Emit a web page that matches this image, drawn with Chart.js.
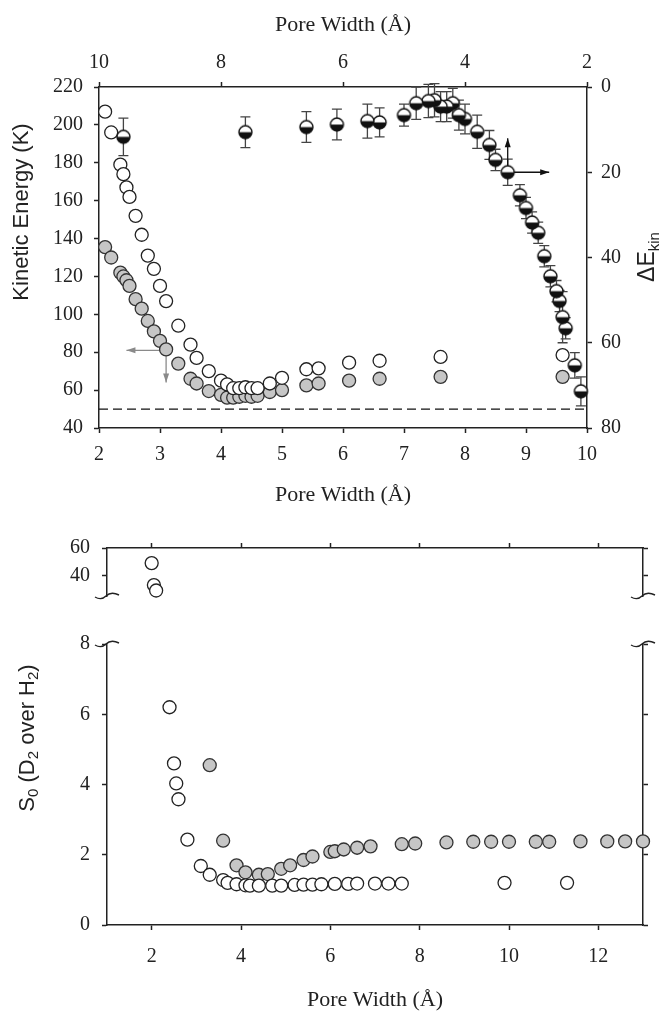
<!DOCTYPE html>
<html>
<head>
<meta charset="utf-8">
<script src="https://cdn.jsdelivr.net/npm/chart.js@4.4.1/dist/chart.umd.min.js"></script>
<style>
  body { margin: 0; background: #fff; }
  #wrap { position: relative; width: 660px; height: 1012px; overflow: hidden; }
  canvas { position: absolute; left: 0; }
</style>
</head>
<body>
<div id="wrap">
  <canvas id="keChart" width="660" height="520" style="top:0"></canvas>
  <canvas id="selUpper" width="660" height="100" style="top:520px"></canvas>
  <canvas id="selLower" width="660" height="392" style="top:620px"></canvas>
</div>
<script>
// top panel: kinetic energy (left/bottom axes) and delta E_kin (right/top axes)
var poreWidthTop = [2.1, 2.2, 2.35, 2.4, 2.45, 2.5, 2.6, 2.7, 2.8, 2.9, 3.0, 3.1, 3.3, 3.5, 3.6, 3.8,
  4.0, 4.1, 4.2, 4.3, 4.4, 4.5, 4.6, 4.8, 5.0, 5.4, 5.6, 6.1, 6.6, 7.6, 9.6];
var keOpen = [207, 196, 179, 174, 167, 162, 152, 142, 131, 124, 115, 107, 94, 84, 77, 70,
  65, 63, 61, 61, 61.5, 61, 61, 63.5, 66.5, 71, 71.5, 74.5, 75.5, 77.5, 78.5];
var keGray = [135.5, 130, 122, 120, 118, 115, 108, 103, 96.5, 91, 86, 81.5, 74, 66, 63.5, 59.5,
  57.5, 56, 56, 56.5, 57, 56.5, 57, 59, 60, 62.5, 63.5, 65, 66, 67, 67];
var deltaKin = [71.4, 65.3, 56.6, 54, 50.2, 47.9, 44.4, 39.7, 34.2, 31.8, 28.4, 25.4, 20, 17.1, 13.6, 10.5,
  7.5, 6.6, 3.8, 4.6, 4.6, 3.1, 3.3, 3.8, 6.6, 8.3, 8.0, 8.8, 9.4, 10.6, 11.7];
var deltaKinErr = [3.4, 3, 2.5, 6, 2.5, 2.5, 2.5, 2.5, 2.5, 2.5, 2.5, 2.5, 3.1, 2.5, 3.4, 3.9,
  3.5, 3.5, 3.5, 3.5, 3.5, 3.9, 3.9, 3.8, 2.6, 3.4, 4, 3.6, 3.6, 3.6, 4.4];
var keLimit = 50;

var keTicksX = [2, 3, 4, 5, 6, 7, 8, 9, 10];
var keTicksXTop = [2, 4, 6, 8, 10];
var keTicksY = [40, 60, 80, 100, 120, 140, 160, 180, 200, 220];
var deltaTicks = [0, 20, 40, 60, 80];

// bottom panel: selectivity S0
var poreWidthOpen = [2.0, 2.05, 2.1, 2.4, 2.5, 2.55, 2.6, 2.8, 3.1, 3.3, 3.6, 3.7, 3.9, 4.1, 4.2,
  4.4, 4.7, 4.9, 5.2, 5.4, 5.6, 5.8, 6.1, 6.4, 6.6, 7.0, 7.3, 7.6, 9.9, 11.3];
var selOpen = [49, 33, 29, 6.2, 4.6, 4.03, 3.58, 2.43, 1.68, 1.43, 1.28, 1.2, 1.16, 1.13, 1.12,
  1.12, 1.12, 1.12, 1.14, 1.15, 1.15, 1.16, 1.17, 1.17, 1.18, 1.18, 1.18, 1.18, 1.2, 1.2];
var poreWidthGray = [3.3, 3.6, 3.9, 4.1, 4.4, 4.6, 4.9, 5.1, 5.4, 5.6, 6.0, 6.1, 6.3, 6.6, 6.9,
  7.6, 7.9, 8.6, 9.2, 9.6, 10.0, 10.6, 10.9, 11.6, 12.2, 12.6, 13.0];
var selGray = [4.55, 2.4, 1.7, 1.5, 1.43, 1.45, 1.6, 1.7, 1.85, 1.95, 2.08, 2.1, 2.15, 2.2, 2.24,
  2.3, 2.32, 2.35, 2.37, 2.37, 2.37, 2.37, 2.37, 2.38, 2.38, 2.38, 2.38];

var selTicksX = [2, 4, 6, 8, 10, 12];
var selTicksUpper = [40, 60];
var selTicksLower = [0, 2, 4, 6, 8];

var ink = "#222";
var serif = "'Liberation Serif', 'Times New Roman', serif";
var sans = "'Liberation Sans', Arial, sans-serif";

function pairs(xs, ys) {
  return xs.map(function (x, i) { return { x: x, y: ys[i] }; });
}

function axis(position, min, max, tickValues, size, pad, showLabels) {
  return {
    type: "linear",
    position: position,
    min: min,
    max: max,
    border: { display: true, color: ink, width: 1.5 },
    grid: { display: true, drawOnChartArea: false, drawTicks: true, tickLength: 5, tickWidth: 1.5, tickColor: ink },
    ticks: { display: showLabels, padding: pad, color: ink, font: { family: serif, size: 20 } },
    afterBuildTicks: function (s) { s.ticks = tickValues.map(function (v) { return { value: v }; }); },
    afterFit: function (s) { if (s.isHorizontal()) s.height = size; else s.width = size; }
  };
}

function poreTitle(pad) {
  return { display: true, text: "Pore Width (Å)", color: ink, font: { family: serif, size: 22, lineHeight: 1 }, padding: pad };
}

function sideLabel(ctx, cx, cy, parts) {
  ctx.save();
  ctx.translate(cx, cy);
  ctx.rotate(-Math.PI / 2);
  ctx.fillStyle = ink;
  ctx.textBaseline = "middle";
  ctx.textAlign = "left";
  var total = 0;
  parts.forEach(function (p) { ctx.font = p[1] + "px " + sans; total += ctx.measureText(p[0]).width; });
  var pos = -total / 2;
  parts.forEach(function (p) {
    ctx.font = p[1] + "px " + sans;
    ctx.fillText(p[0], pos, p[2]);
    pos += ctx.measureText(p[0]).width;
  });
  ctx.restore();
}

function arrow(ctx, x0, y0, x1, y1, color) {
  var a = Math.atan2(y1 - y0, x1 - x0);
  ctx.strokeStyle = color;
  ctx.fillStyle = color;
  ctx.lineWidth = 1.3;
  ctx.beginPath();
  ctx.moveTo(x0, y0);
  ctx.lineTo(x1, y1);
  ctx.stroke();
  ctx.beginPath();
  ctx.moveTo(x1, y1);
  ctx.lineTo(x1 - 9 * Math.cos(a) + 3 * Math.sin(a), y1 - 9 * Math.sin(a) - 3 * Math.cos(a));
  ctx.lineTo(x1 - 9 * Math.cos(a) - 3 * Math.sin(a), y1 - 9 * Math.sin(a) + 3 * Math.cos(a));
  ctx.closePath();
  ctx.fill();
}

function squiggle(ctx, x, y) {
  ctx.beginPath();
  ctx.moveTo(x - 12, y + 1);
  ctx.bezierCurveTo(x - 7, y + 4, x - 4, y + 3, x - 1, y);
  ctx.bezierCurveTo(x + 2, y - 3, x + 6, y - 4, x + 12, y - 1);
  ctx.stroke();
}

// half-filled marker (white top, black bottom)
function halfDot() {
  var c = document.createElement("canvas");
  c.width = 17; c.height = 17;
  var g = c.getContext("2d");
  g.fillStyle = "#fff";
  g.beginPath(); g.arc(8.5, 8.5, 6.5, 0, 2 * Math.PI); g.fill();
  g.fillStyle = "#111";
  g.beginPath(); g.arc(8.5, 8.5, 6.5, 0, Math.PI); g.closePath(); g.fill();
  g.strokeStyle = "#111"; g.lineWidth = 1.4;
  g.beginPath(); g.arc(8.5, 8.5, 6.5, 0, 2 * Math.PI); g.stroke();
  return c;
}

var openStyle = { backgroundColor: "#fff", borderColor: ink, borderWidth: 1.3, pointRadius: 6.5, clip: false };
var grayStyle = { backgroundColor: "#c6c6c6", borderColor: "#333", borderWidth: 1.3, pointRadius: 6.5, clip: false };

var keExtras = {
  id: "keExtras",
  beforeDatasetsDraw: function (chart) {
    var ctx = chart.ctx, s = chart.scales;
    ctx.save();
    ctx.strokeStyle = "#444";
    ctx.lineWidth = 1.3;
    poreWidthTop.forEach(function (w, i) {
      var px = s.x2.getPixelForValue(w);
      var lo = s.y2.getPixelForValue(deltaKin[i] - deltaKinErr[i]);
      var hi = s.y2.getPixelForValue(deltaKin[i] + deltaKinErr[i]);
      ctx.beginPath();
      ctx.moveTo(px, lo); ctx.lineTo(px, hi);
      ctx.moveTo(px - 5, lo); ctx.lineTo(px + 5, lo);
      ctx.moveTo(px - 5, hi); ctx.lineTo(px + 5, hi);
      ctx.stroke();
    });
    // arrows: grey points read on left/bottom, half-filled on right/top
    arrow(ctx, s.x.getPixelForValue(3.1), s.y.getPixelForValue(81), s.x.getPixelForValue(2.45), s.y.getPixelForValue(81), "#8a8a8a");
    arrow(ctx, s.x.getPixelForValue(3.1), s.y.getPixelForValue(81), s.x.getPixelForValue(3.1), s.y.getPixelForValue(64), "#8a8a8a");
    arrow(ctx, s.x2.getPixelForValue(3.3), s.y2.getPixelForValue(20), s.x2.getPixelForValue(3.3), s.y2.getPixelForValue(12), "#111");
    arrow(ctx, s.x2.getPixelForValue(3.3), s.y2.getPixelForValue(20), s.x2.getPixelForValue(2.62), s.y2.getPixelForValue(20), "#111");
    ctx.restore();
  },
  afterDraw: function (chart) {
    sideLabel(chart.ctx, 22, 212, [["Kinetic Energy (K)", 22, 0]]);
    sideLabel(chart.ctx, 648, 257, [["ΔE", 23, 0], ["kin", 15, 7]]);
  }
};

new Chart(document.getElementById("keChart"), {
  type: "scatter",
  data: {
    datasets: [
      { label: "ΔEkin", data: pairs(poreWidthTop, deltaKin), xAxisID: "x2", yAxisID: "y2",
        pointStyle: halfDot(), pointRadius: 7, clip: false },
      Object.assign({ label: "open", data: pairs(poreWidthTop, keOpen), xAxisID: "x", yAxisID: "y" }, openStyle),
      Object.assign({ label: "grey", data: pairs(poreWidthTop, keGray), xAxisID: "x", yAxisID: "y" }, grayStyle),
      { type: "line", label: "limit", data: [{ x: 2, y: keLimit }, { x: 10, y: keLimit }], xAxisID: "x", yAxisID: "y",
        borderColor: "#111", borderWidth: 1.3, borderDash: [9, 5], pointRadius: 0, showLine: true }
    ]
  },
  options: {
    responsive: false,
    animation: false,
    plugins: { legend: { display: false }, tooltip: { enabled: false } },
    scales: {
      x: Object.assign(axis("bottom", 2, 10, keTicksX, 92, 10, true), { title: poreTitle({ bottom: 14 }) }),
      x2: Object.assign(axis("top", 2, 10, keTicksXTop, 87, 7, true), { reverse: true, title: poreTitle({ top: 14 }) }),
      y: axis("left", 40, 220, keTicksY, 99, 11, true),
      y2: Object.assign(axis("right", 0, 80, deltaTicks, 73, 9, true), { reverse: true })
    }
  },
  plugins: [keExtras]
});

// bottom panel, upper piece of the broken axis
new Chart(document.getElementById("selUpper"), {
  type: "scatter",
  data: {
    datasets: [
      Object.assign({ label: "open", data: pairs(poreWidthOpen, selOpen).filter(function (p) { return p.y > 8; }) }, openStyle)
    ]
  },
  options: {
    responsive: false,
    animation: false,
    layout: { padding: { bottom: 5.5 } },
    plugins: { legend: { display: false }, tooltip: { enabled: false } },
    scales: {
      x: axis("top", 1, 13, selTicksX, 28, 0, false),
      y: axis("left", 25, 60, selTicksUpper, 107, 12, true),
      yr: axis("right", 25, 60, selTicksUpper, 17, 0, false)
    }
  },
  plugins: [{
    id: "breakTop",
    afterDraw: function (chart) {
      var ctx = chart.ctx, a = chart.chartArea;
      ctx.save();
      ctx.strokeStyle = ink; ctx.lineWidth = 1.4;
      squiggle(ctx, a.left, a.bottom);
      squiggle(ctx, a.right, a.bottom);
      ctx.restore();
    }
  }]
});

// bottom panel, lower piece
new Chart(document.getElementById("selLower"), {
  type: "scatter",
  data: {
    datasets: [
      Object.assign({ label: "open", data: pairs(poreWidthOpen, selOpen).filter(function (p) { return p.y <= 8; }) }, openStyle),
      Object.assign({ label: "grey", data: pairs(poreWidthGray, selGray) }, grayStyle)
    ]
  },
  options: {
    responsive: false,
    animation: false,
    layout: { padding: { top: 19 } },
    plugins: { legend: { display: false }, tooltip: { enabled: false } },
    scales: {
      x: Object.assign(axis("bottom", 1, 13, selTicksX, 87, 15, true), { title: poreTitle({ bottom: 1 }) }),
      y: axis("left", 0, 8, selTicksLower, 107, 12, true),
      yr: axis("right", 0, 8, selTicksLower, 17, 0, false)
    }
  },
  plugins: [{
    id: "breakBottom",
    afterDraw: function (chart) {
      var ctx = chart.ctx, a = chart.chartArea;
      ctx.save();
      ctx.strokeStyle = ink; ctx.lineWidth = 1.4;
      squiggle(ctx, a.left, a.top);
      squiggle(ctx, a.right, a.top);
      ctx.restore();
      sideLabel(ctx, 28, 118, [["S", 22, 0], ["0", 15, 6], [" (D", 22, 0], ["2", 15, 6], [" over H", 22, 0], ["2", 15, 6], [")", 22, 0]]);
    }
  }]
});
</script>
</body>
</html>
